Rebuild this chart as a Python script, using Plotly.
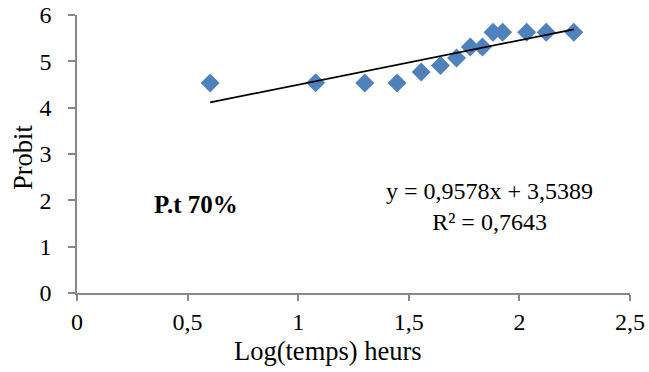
import plotly.graph_objects as go

# Log10 of exposure time (hours) and probit of mortality
log_temps = [0.602, 1.079, 1.301, 1.447, 1.556, 1.643, 1.716, 1.778,
             1.833, 1.881, 1.924, 2.033, 2.121, 2.246]
probit = [4.53, 4.54, 4.53, 4.53, 4.77, 4.91, 5.07, 5.31,
          5.31, 5.63, 5.63, 5.63, 5.63, 5.63]

# Linear trend reported on the chart
slope = 0.9578
intercept = 3.5389
r_squared = 0.7643

x_ticks = [0, 0.5, 1, 1.5, 2, 2.5]
x_tick_text = ["0", "0,5", "1", "1,5", "2", "2,5"]
y_ticks = [0, 1, 2, 3, 4, 5, 6]

def fr(v, nd):
    return f"{v:.{nd}f}".replace(".", ",")

trend_x = [min(log_temps), max(log_temps)]
trend_y = [slope * v + intercept for v in trend_x]

FONT = "Liberation Serif, Times New Roman, serif"
AXIS_COLOR = "#888888"

fig = go.Figure()
fig.add_trace(go.Scatter(
    x=log_temps, y=probit, mode="markers",
    marker=dict(symbol="diamond", size=14.6, color="#4F81BD",
                line=dict(width=0)),
    showlegend=False,
))
fig.add_trace(go.Scatter(
    x=trend_x, y=trend_y, mode="lines",
    line=dict(color="black", width=1.7),
    showlegend=False,
))

fig.update_layout(
    width=649, height=372,
    margin=dict(l=77, r=19, t=15, b=79),
    paper_bgcolor="white", plot_bgcolor="white",
    font=dict(family=FONT, size=24, color="black"),
    xaxis=dict(
        range=[0, 2.5], tickvals=x_ticks, ticktext=x_tick_text,
        automargin=False,
        showgrid=False, zeroline=False, showline=True,
        linecolor=AXIS_COLOR, linewidth=1.5,
        ticks="outside", ticklen=6, tickwidth=1.5, tickcolor=AXIS_COLOR,
        tickfont=dict(family=FONT, size=24, color="black"),
    ),
    yaxis=dict(
        range=[0, 6], tickvals=y_ticks,
        automargin=False,
        showgrid=False, zeroline=False, showline=True,
        linecolor=AXIS_COLOR, linewidth=1.5,
        ticks="outside", ticklen=7, tickwidth=1.5, tickcolor=AXIS_COLOR,
        tickfont=dict(family=FONT, size=24, color="black"),
        ticklabelstandoff=12,
    ),
    annotations=[
        dict(text="Log(temps) heurs", xref="paper", yref="paper",
             x=(327.5 - 77) / 553, y=-(351 - 293) / 278,
             xanchor="center", yanchor="middle", showarrow=False,
             font=dict(family=FONT, size=26.5, color="black")),
        dict(text="Probit", xref="paper", yref="paper",
             x=-(77 - 23) / 553, y=(293 - 158) / 278, textangle=-90,
             xanchor="center", yanchor="middle", showarrow=False,
             font=dict(family=FONT, size=26.5, color="black")),
        dict(text="<b>P.t 70%</b>", xref="x", yref="y",
             x=0.537, y=1.9, xanchor="center", yanchor="middle",
             showarrow=False,
             font=dict(family=FONT, size=25, color="black")),
        dict(text=f"y = {fr(slope, 4)}x + {fr(intercept, 4)}<br>"
                  f"R² = {fr(r_squared, 4)}",
             xref="x", yref="y", x=1.863, y=1.86,
             xanchor="center", yanchor="middle", align="center",
             showarrow=False,
             font=dict(family=FONT, size=24, color="black")),
    ],
)

fig.write_html("out.html")
